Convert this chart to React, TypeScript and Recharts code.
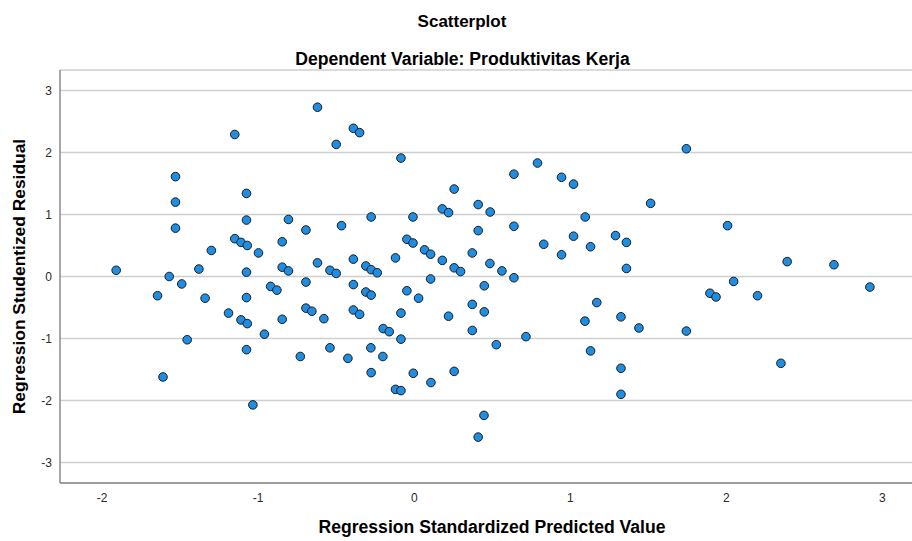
import React from "react";
import { ScatterChart, Scatter, XAxis, YAxis, CartesianGrid, Label } from "recharts";

const chartTitle = "Scatterplot";
const chartSubtitle = "Dependent Variable: Produktivitas Kerja";
const xTitle = "Regression Standardized Predicted Value";
const yTitle = "Regression Studentized Residual";

const xTicks = [-2, -1, 0, 1, 2, 3];
const yTicks = [-3, -2, -1, 0, 1, 2, 3];

const predicted = [
  -1.91, -1.645, -1.61, -1.57, -1.53, -1.53, -1.53, -1.49, -1.455, -1.38,
  -1.34, -1.3, -1.19, -1.15, -1.15, -1.11, -1.11, -1.075, -1.075, -1.07,
  -1.075, -1.075, -1.07, -1.075, -1.034, -0.998, -0.96, -0.92, -0.88, -0.846,
  -0.846, -0.846, -0.806, -0.806, -0.73, -0.694, -0.694, -0.694, -0.656, -0.62,
  -0.62, -0.579, -0.54, -0.54, -0.5, -0.5, -0.466, -0.425, -0.39, -0.39,
  -0.39, -0.39, -0.35, -0.35, -0.31, -0.31, -0.276, -0.276, -0.276, -0.278,
  -0.276, -0.237, -0.201, -0.199, -0.16, -0.12, -0.12, -0.085, -0.085, -0.085,
  -0.085, -0.047, -0.047, -0.008, -0.008, -0.006, 0.028, 0.066, 0.105, 0.105,
  0.107, 0.18, 0.18, 0.22, 0.22, 0.256, 0.256, 0.256, 0.297, 0.372,
  0.372, 0.372, 0.41, 0.41, 0.41, 0.449, 0.449, 0.447, 0.485, 0.487,
  0.526, 0.562, 0.639, 0.639, 0.639, 0.716, 0.79, 0.83, 0.944, 0.944,
  1.021, 1.021, 1.094, 1.096, 1.13, 1.13, 1.17, 1.29, 1.325, 1.325,
  1.325, 1.36, 1.36, 1.44, 1.515, 1.744, 1.744, 1.895, 1.934, 2.008,
  2.047, 2.2, 2.35, 2.39, 2.69, 2.92,
];

const residual = [
  0.1, -0.31, -1.62, 0.0, 1.61, 1.2, 0.78, -0.12, -1.02, 0.12,
  -0.35, 0.42, -0.59, 2.29, 0.61, 0.55, -0.7, 1.34, 0.91, 0.5,
  0.07, -0.34, -0.76, -1.18, -2.07, 0.38, -0.93, -0.16, -0.22, 0.56,
  0.15, -0.69, 0.92, 0.09, -1.29, 0.75, -0.09, -0.51, -0.56, 2.73,
  0.22, -0.68, 0.1, -1.15, 2.13, 0.05, 0.82, -1.32, 2.39, 0.28,
  -0.13, -0.54, 2.32, -0.61, 0.17, -0.25, 0.96, 0.11, -0.3, -1.15,
  -1.55, 0.06, -1.29, -0.84, -0.89, 0.3, -1.82, 1.91, -0.59, -1.01,
  -1.84, 0.6, -0.23, 0.96, 0.54, -1.56, -0.35, 0.43, 0.36, -0.04,
  -1.71, 1.09, 0.26, 1.03, -0.64, 1.41, 0.14, -1.53, 0.08, 0.38,
  -0.45, -0.87, 1.16, 0.74, -2.59, -0.15, -0.57, -2.24, 0.21, 1.04,
  -1.1, 0.09, 1.65, 0.81, -0.02, -0.97, 1.83, 0.52, 1.6, 0.35,
  1.49, 0.65, -0.72, 0.96, 0.48, -1.2, -0.42, 0.66, -0.65, -1.48,
  -1.9, 0.55, 0.13, -0.83, 1.18, 2.06, -0.88, -0.27, -0.33, 0.82,
  -0.08, -0.31, -1.4, 0.24, 0.19, -0.17,
];

const data = predicted.map((x, i) => ({ x, y: residual[i] }));

const FONT = "'Liberation Sans', Arial, Helvetica, sans-serif";

const Dot = (props: any) => {
  const { cx, cy } = props;
  if (cx == null || cy == null) return null;
  return <circle cx={cx} cy={cy} r={4.3} fill="#1e8ee4" stroke="#1b1b1b" strokeWidth={1} />;
};

const XTitle = (props: any) => {
  const vb = props.viewBox || {};
  const cx = 492;
  const y = (vb.y || 483) + 44;
  return (
    <text x={cx} y={y} textAnchor="middle" dominantBaseline="central" fontFamily={FONT} fontWeight="bold" fontSize={17.6} fill="#000">
      {xTitle}
    </text>
  );
};

const YTitle = (props: any) => {
  const vb = props.viewBox || {};
  const cy = (vb.y || 70) + (vb.height || 413) / 2;
  const x = 19;
  return (
    <text x={x} y={cy} transform={`rotate(-90, ${x}, ${cy})`} textAnchor="middle" dominantBaseline="central" fontFamily={FONT} fontWeight="bold" fontSize={17.4} fill="#000">
      {yTitle}
    </text>
  );
};

export default function App() {
  return (
    <div style={{ position: "absolute", left: 0, top: 0, width: 912, height: 541, background: "#fff" }}>
      <div style={{ position: "absolute", left: 0, width: 924, top: 11, textAlign: "center", fontFamily: FONT, fontWeight: "bold", fontSize: 17, lineHeight: "22px", color: "#000" }}>
        {chartTitle}
      </div>
      <div style={{ position: "absolute", left: 0, width: 925, top: 48, textAlign: "center", fontFamily: FONT, fontWeight: "bold", fontSize: 17.6, lineHeight: "22px", color: "#000" }}>
        {chartSubtitle}
      </div>
      <ScatterChart width={912} height={541} margin={{ top: 70, right: 0, bottom: 0, left: 0 }}>
        <CartesianGrid vertical={false} stroke="#cfcfcf" strokeWidth={1.5} />
        <XAxis
          type="number"
          dataKey="x"
          domain={[-2.27, 3.19]}
          ticks={xTicks}
          allowDataOverflow
          height={58}
          tickLine={false}
          tickSize={0}
          tickMargin={10}
          axisLine={{ stroke: "#8a8a8a", strokeWidth: 1.5 }}
          tick={{ fontSize: 12, fill: "#2a2a2a", fontFamily: FONT }}
        >
          <Label content={<XTitle />} />
        </XAxis>
        <YAxis
          type="number"
          dataKey="y"
          domain={[-3.33, 3.33]}
          ticks={yTicks}
          allowDataOverflow
          width={60}
          tickLine={false}
          tickSize={0}
          tickMargin={8}
          axisLine={{ stroke: "#8a8a8a", strokeWidth: 1.5 }}
          tick={{ fontSize: 12, fill: "#2a2a2a", fontFamily: FONT }}
        >
          <Label content={<YTitle />} />
        </YAxis>
        <Scatter data={data} isAnimationActive={false} shape={<Dot />} />
      </ScatterChart>
    </div>
  );
}
